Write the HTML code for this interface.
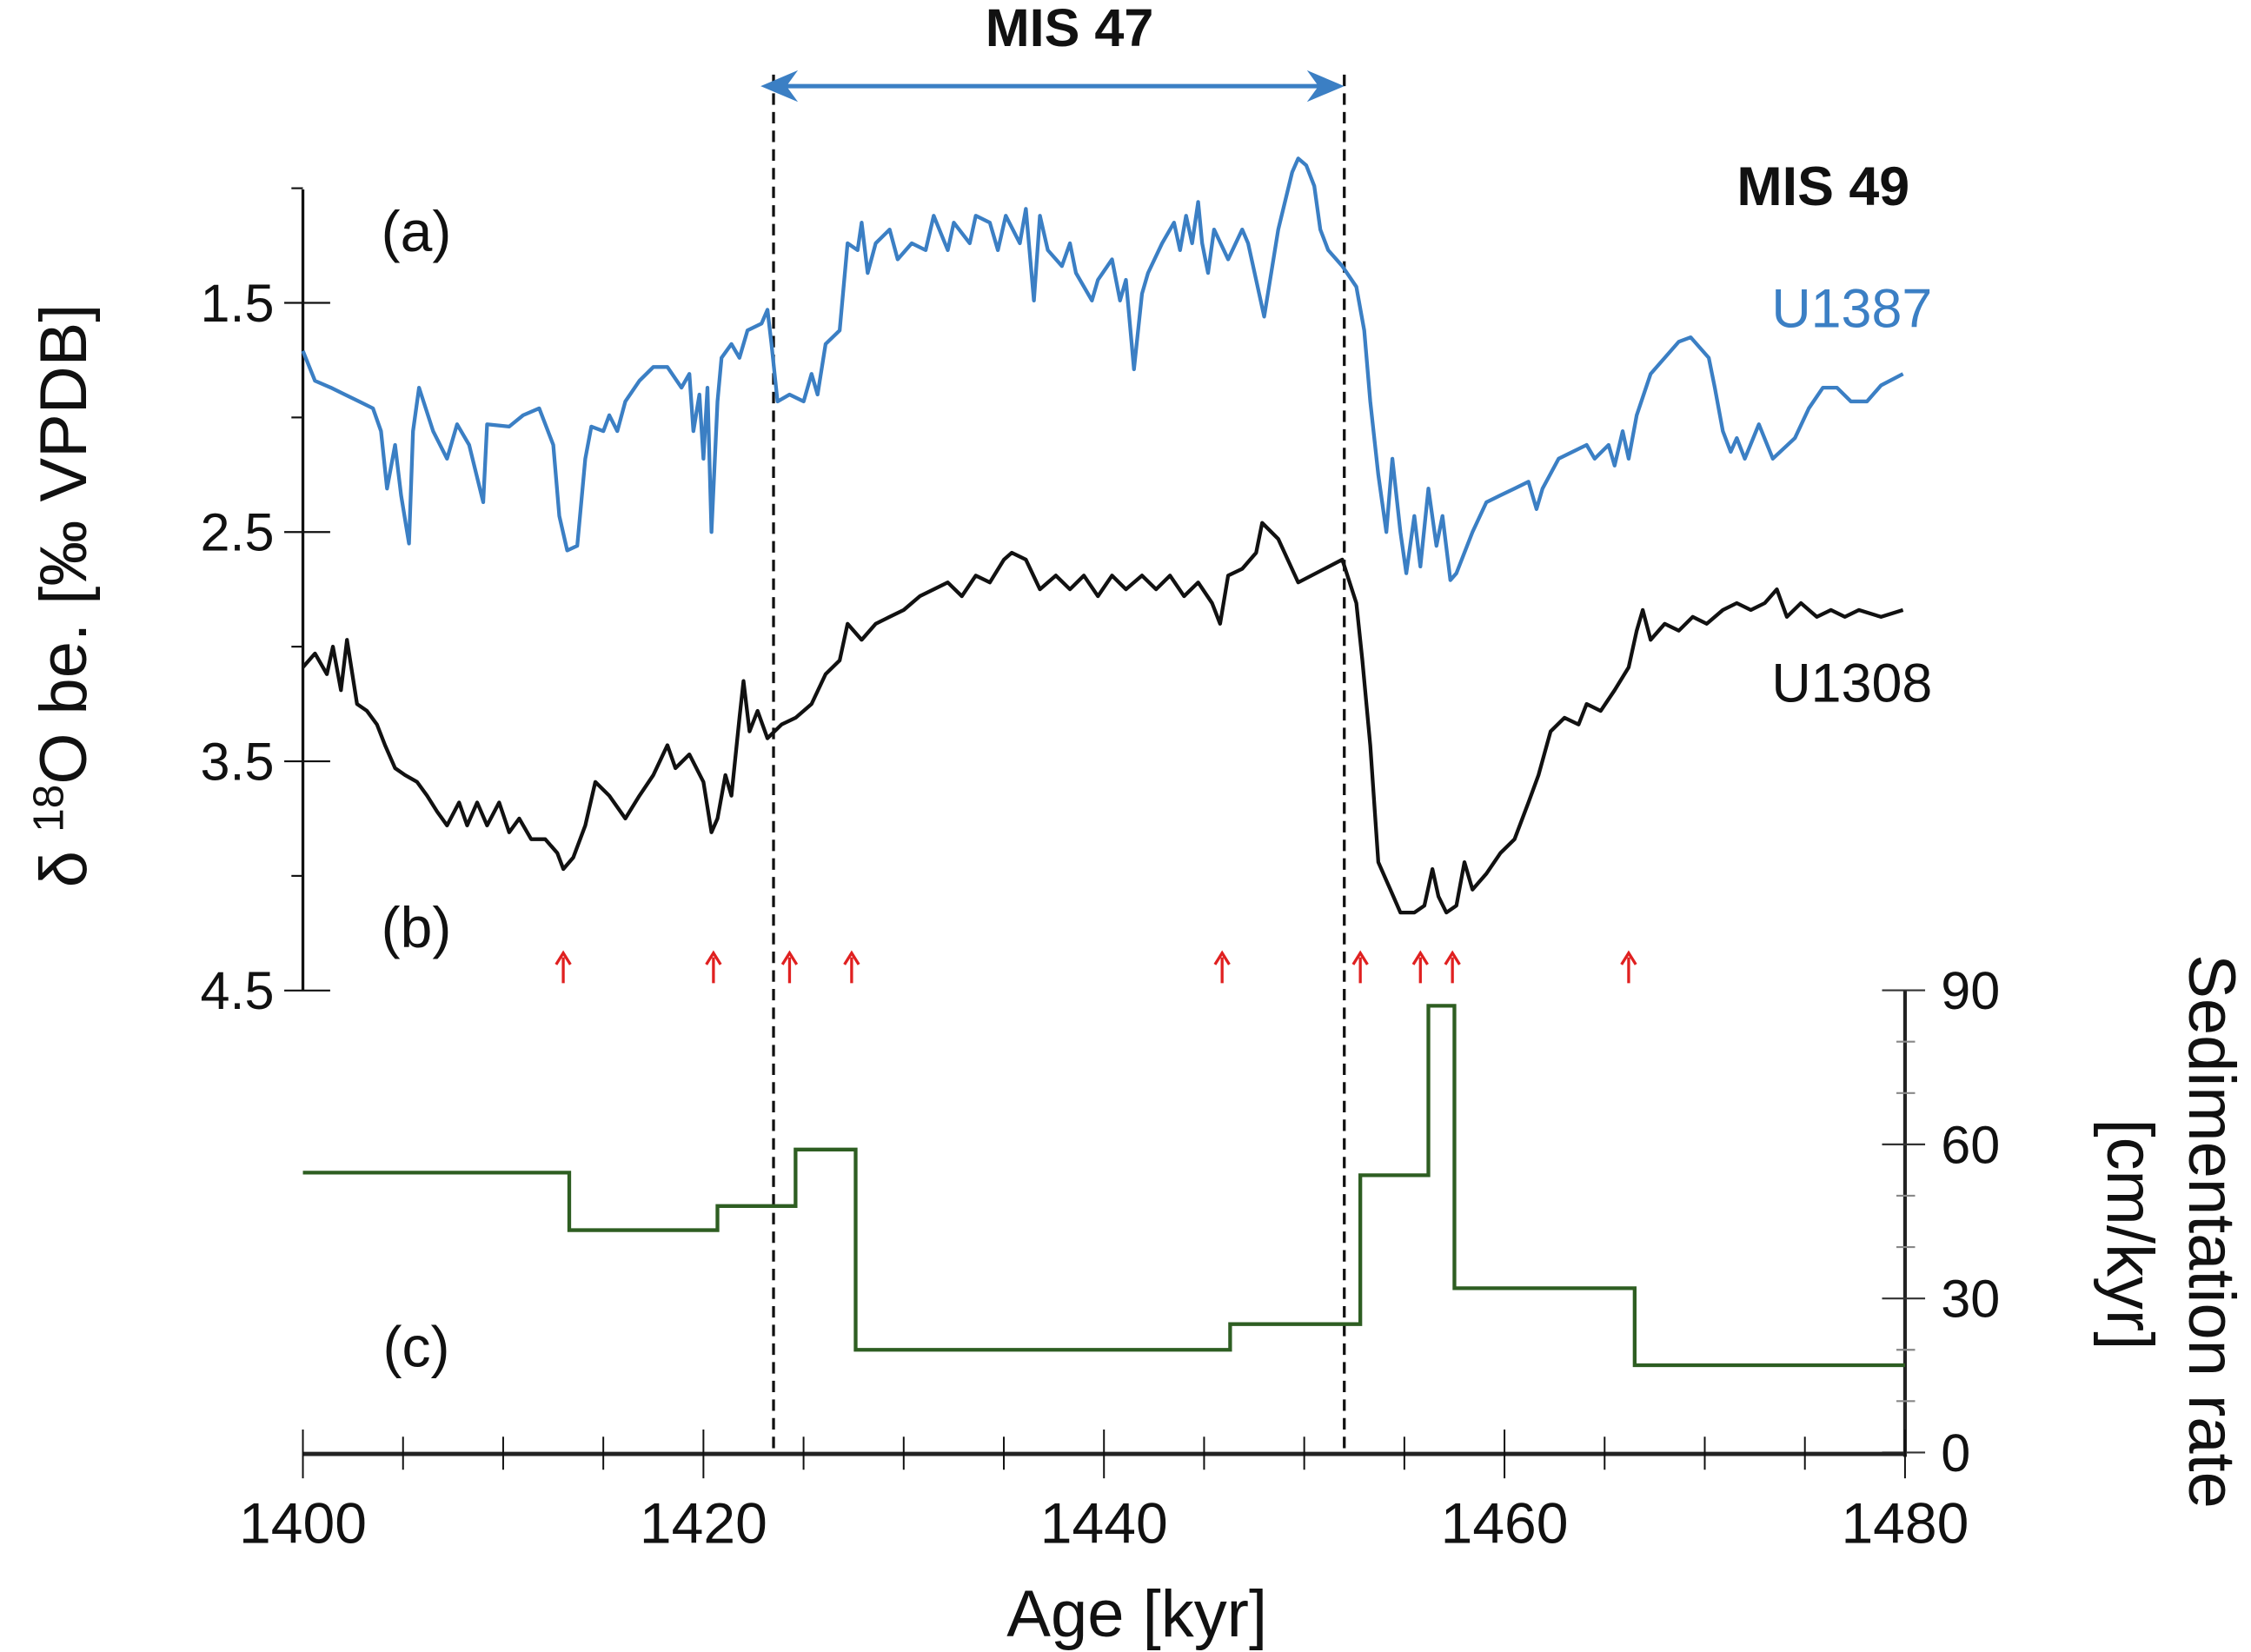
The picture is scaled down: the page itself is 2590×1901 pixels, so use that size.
<!DOCTYPE html>
<html><head><meta charset="utf-8"><style>
html,body{margin:0;padding:0;background:#fff;}
svg{display:block;font-family:"Liberation Sans",Arial,sans-serif;}
</style></head><body>
<svg id="chart" width="2590" height="1901" viewBox="0 0 1568 1151" preserveAspectRatio="none" xmlns="http://www.w3.org/2000/svg">
<g id="axes"></g>
<g id="marks"></g>
<g id="labels"></g>
</svg>
<script>
// U1387 (blue) series
const u1387Ages=[1400.0,1400.6,1401.4,1402.1,1402.8,1403.5,1403.9,1404.2,1404.6,1404.9,1405.3,1405.5,1405.8,1406.5,1407.2,1407.7,1408.3,1409.0,1409.2,1410.3,1411.0,1411.8,1412.5,1412.8,1413.2,1413.7,1414.1,1414.4,1415.0,1415.3,1415.7,1416.1,1416.8,1417.5,1418.2,1418.9,1419.3,1419.5,1419.8,1420.0,1420.2,1420.4,1420.7,1420.9,1421.4,1421.8,1422.2,1422.9,1423.2,1423.4,1423.7,1424.3,1425.0,1425.4,1425.7,1426.1,1426.8,1427.2,1427.7,1427.9,1428.2,1428.6,1429.3,1429.7,1430.4,1431.1,1431.5,1432.2,1432.5,1433.3,1433.6,1434.3,1434.7,1435.1,1435.8,1436.1,1436.5,1436.8,1437.2,1437.9,1438.3,1438.6,1439.4,1439.7,1440.4,1440.8,1441.1,1441.5,1441.9,1442.2,1442.9,1443.5,1443.8,1444.1,1444.4,1444.7,1444.9,1445.2,1445.5,1446.2,1446.9,1447.2,1448.0,1448.7,1449.4,1449.7,1450.1,1450.5,1450.8,1451.2,1451.9,1452.6,1453.0,1453.3,1453.7,1454.1,1454.4,1454.8,1455.1,1455.5,1455.8,1456.2,1456.6,1456.9,1457.3,1457.6,1458.4,1459.1,1459.8,1460.5,1461.2,1461.6,1461.9,1462.7,1463.4,1464.1,1464.5,1465.2,1465.5,1465.9,1466.2,1466.6,1467.3,1468.0,1468.7,1469.3,1470.2,1470.5,1470.9,1471.3,1471.6,1472.0,1472.7,1473.4,1474.5,1475.2,1475.9,1476.6,1477.3,1478.1,1478.8,1479.9];
const u1387Values=[1.71,1.84,1.87,1.90,1.93,1.96,2.06,2.31,2.12,2.34,2.55,2.06,1.87,2.06,2.18,2.03,2.12,2.37,2.03,2.04,1.99,1.96,2.12,2.43,2.58,2.56,2.18,2.04,2.06,1.99,2.06,1.93,1.84,1.78,1.78,1.87,1.81,2.06,1.90,2.18,1.87,2.50,1.93,1.74,1.68,1.74,1.62,1.59,1.53,1.68,1.93,1.90,1.93,1.81,1.90,1.68,1.62,1.24,1.27,1.15,1.37,1.24,1.18,1.31,1.24,1.27,1.12,1.27,1.15,1.24,1.12,1.15,1.27,1.12,1.24,1.09,1.49,1.12,1.27,1.34,1.24,1.37,1.49,1.40,1.31,1.49,1.40,1.79,1.46,1.37,1.24,1.15,1.27,1.12,1.24,1.06,1.24,1.37,1.18,1.31,1.18,1.24,1.56,1.18,0.93,0.87,0.90,0.99,1.18,1.27,1.34,1.43,1.62,1.93,2.25,2.50,2.18,2.50,2.68,2.43,2.65,2.31,2.56,2.43,2.71,2.68,2.50,2.37,2.34,2.31,2.28,2.40,2.31,2.18,2.15,2.12,2.18,2.12,2.21,2.06,2.18,1.99,1.81,1.74,1.67,1.65,1.74,1.87,2.06,2.15,2.09,2.18,2.03,2.18,2.09,1.96,1.87,1.87,1.93,1.93,1.86,1.81];
// U1308 (black) series
const u1308Ages=[1400.0,1400.6,1401.2,1401.5,1401.9,1402.2,1402.7,1403.2,1403.7,1404.1,1404.6,1405.1,1405.7,1406.2,1406.7,1407.2,1407.8,1408.2,1408.7,1409.2,1409.8,1410.3,1410.8,1411.4,1412.1,1412.7,1413.0,1413.5,1414.1,1414.6,1415.3,1416.1,1416.8,1417.5,1418.2,1418.6,1419.3,1420.0,1420.4,1420.7,1421.1,1421.4,1421.8,1422.0,1422.3,1422.7,1423.2,1423.9,1424.6,1425.4,1426.1,1426.8,1427.2,1427.9,1428.6,1429.3,1430.0,1430.8,1431.5,1432.2,1432.9,1433.6,1434.3,1435.0,1435.4,1436.1,1436.8,1437.6,1438.3,1439.0,1439.7,1440.4,1441.1,1441.9,1442.6,1443.3,1444.0,1444.7,1445.4,1445.8,1446.2,1446.9,1447.6,1447.9,1448.7,1449.7,1451.9,1452.6,1452.9,1453.3,1453.7,1454.3,1454.8,1455.5,1456.0,1456.4,1456.7,1457.1,1457.6,1458.0,1458.4,1459.1,1459.8,1460.5,1461.2,1461.7,1462.3,1463.0,1463.7,1464.1,1464.8,1465.5,1466.2,1466.6,1466.9,1467.3,1468.0,1468.7,1469.4,1470.1,1470.9,1471.6,1472.3,1473.0,1473.6,1474.1,1474.8,1475.6,1476.3,1477.0,1477.7,1478.8,1479.9];
const u1308Values=[3.09,3.03,3.12,3.00,3.19,2.97,3.25,3.28,3.34,3.43,3.53,3.56,3.59,3.65,3.72,3.78,3.68,3.78,3.68,3.78,3.68,3.81,3.75,3.84,3.84,3.90,3.97,3.92,3.78,3.59,3.65,3.75,3.65,3.56,3.43,3.53,3.47,3.59,3.81,3.75,3.56,3.65,3.31,3.15,3.37,3.28,3.40,3.34,3.31,3.25,3.12,3.06,2.90,2.97,2.90,2.87,2.84,2.78,2.75,2.72,2.78,2.69,2.72,2.62,2.59,2.62,2.75,2.69,2.75,2.69,2.78,2.69,2.75,2.69,2.75,2.69,2.78,2.72,2.81,2.90,2.69,2.66,2.59,2.46,2.53,2.72,2.62,2.81,3.06,3.43,3.94,4.06,4.16,4.16,4.13,3.97,4.09,4.16,4.13,3.94,4.06,3.99,3.90,3.84,3.68,3.56,3.37,3.31,3.34,3.25,3.28,3.19,3.09,2.93,2.84,2.97,2.90,2.93,2.87,2.90,2.84,2.81,2.84,2.81,2.75,2.87,2.81,2.87,2.84,2.87,2.84,2.87,2.84];
// Sedimentation rate step series
const sedBreaks=[1400,1413.3,1420.7,1424.6,1427.6,1446.3,1452.8,1456.2,1457.5,1466.5,1480];
const sedRates=[54.5,43.3,48,59,20,25,54,87,32,17];
// Red arrow ages
const arrowAges=[1413.0,1420.5,1424.3,1427.4,1445.9,1452.8,1455.8,1457.4,1466.2];
// Dashed MIS 47 boundaries
const misBounds=[1423.5,1452.0];
// Tick labels
const xTicks=[1400,1420,1440,1460,1480];
const yTicks=[1.5,2.5,3.5,4.5];
const sedTicks=[0,30,60,90];

const NS="http://www.w3.org/2000/svg";
const X=a=>211+(a-1400)*(1116/80);
const Y=v=>211+(v-1.5)*159.7;
const S=r=>1012-r*(322/90);
function mk(tag,attrs,parent,text){const e=document.createElementNS(NS,tag);for(const k in attrs)e.setAttribute(k,attrs[k]);if(text!==undefined)e.textContent=text;parent.appendChild(e);return e;}
const axes=document.getElementById('axes'),marks=document.getElementById('marks'),labels=document.getElementById('labels');

// left axis
let e=mk('line',{x1:211,y1:132,x2:211,y2:690,stroke:'#111','stroke-width':2},axes);


for(let v=1.0;v<=4.51;v+=0.5){const major=Math.abs((v-1.5)%1)<0.01;
 e=mk('line',{x1:major?198:203,y1:Y(v),x2:major?230:211,y2:Y(v),stroke:'#111','stroke-width':1.3},axes);
 
 }
yTicks.forEach(v=>{e=mk('text',{x:191,y:Y(v)+13,'text-anchor':'end','font-size':37,fill:'#111'},labels,v.toFixed(1));
 
 });
// right axis
e=mk('line',{x1:1327,y1:690,x2:1327,y2:1015,stroke:'#222','stroke-width':2.5},axes);


for(let r=0;r<=90;r+=10){const major=r%30===0;
 e=mk('line',{x1:major?1311:1321,y1:S(r),x2:major?1341:1334,y2:S(r),stroke:major?'#333':'#888','stroke-width':1.3},axes);
 
 }
sedTicks.forEach(r=>{e=mk('text',{x:1352,y:S(r)+13,'font-size':37,fill:'#111'},labels,String(r));
 
 });
// bottom axis
e=mk('line',{x1:211,y1:1013,x2:1327,y2:1013,stroke:'#222','stroke-width':3},axes);


for(let a=1400;a<=1480;a+=5){const major=a%20===0;
 e=mk('line',{x1:X(a),y1:major?996:1001,x2:X(a),y2:major?1030:1024,stroke:'#111','stroke-width':1.2},axes);
 
 }
xTicks.forEach(a=>{e=mk('text',{x:X(a),y:1075,'text-anchor':'middle','font-size':40,fill:'#111'},labels,String(a));
 
 });

// dashed lines
misBounds.forEach(a=>{e=mk('line',{x1:X(a),y1:52,x2:X(a),y2:1012,stroke:'#111','stroke-width':2,'stroke-dasharray':'8,5'},marks);
 
 });
// MIS 47 arrow
const ay=60,ax1=X(misBounds[0])-9,ax2=X(misBounds[1]);
e=mk('line',{x1:ax1+14,y1:ay,x2:ax2-14,y2:ay,stroke:'#3b7fc4','stroke-width':3},marks);


mk('polygon',{points:`${ax1},${ay} ${ax1+26},${ay-11} ${ax1+18},${ay} ${ax1+26},${ay+11}`,fill:'#3b7fc4'},marks);
mk('polygon',{points:`${ax2},${ay} ${ax2-26},${ay-11} ${ax2-18},${ay} ${ax2-26},${ay+11}`,fill:'#3b7fc4'},marks);

// series lines
function path(ages,vals){return ages.map((a,i)=>(i?'L':'M')+X(a).toFixed(1)+','+Y(vals[i]).toFixed(1)).join('');}
e=mk('path',{d:path(u1387Ages,u1387Values),fill:'none',stroke:'#3b7fc4','stroke-width':2.6,'stroke-linejoin':'round'},marks);


e=mk('path',{d:path(u1308Ages,u1308Values),fill:'none',stroke:'#111','stroke-width':2.6,'stroke-linejoin':'round'},marks);


// sed step
let d='';sedRates.forEach((r,i)=>{d+=(i?'L':'M')+X(sedBreaks[i])+','+S(r)+'L'+X(sedBreaks[i+1])+','+S(r);});
e=mk('path',{d:d,fill:'none',stroke:'#2e5e22','stroke-width':2.6},marks);


// arrows
arrowAges.forEach(a=>{const x=X(a);
 const g=mk('g',{},marks);
 
 
 mk('line',{x1:x,y1:685,x2:x,y2:667,stroke:'#e02020','stroke-width':2},g);
 mk('polyline',{points:`${x-5},${672} ${x},${664} ${x+5},${672}`,fill:'none',stroke:'#e02020','stroke-width':2},g);});

// text labels
function T(x,y,txt,name,extra){const t=mk('text',Object.assign({x:x,y:y,'font-size':40,fill:'#111'},extra||{}),labels,txt);
 
 return t;}
T(745,32,'MIS 47','mis47-label',{'text-anchor':'middle','font-weight':'bold','font-size':37});
T(1270,143,'MIS 49','mis49-label',{'text-anchor':'middle','font-weight':'bold','font-size':38});
T(1290,228,'U1387','u1387-label',{'text-anchor':'middle',fill:'#3b7fc4','font-size':38});
T(1290,489,'U1308','u1308-label',{'text-anchor':'middle','font-size':38});
T(290,175,'(a)','panel-a-label',{'text-anchor':'middle'});
T(290,660,'(b)','panel-b-label',{'text-anchor':'middle'});
T(290,952,'(c)','panel-c-label',{'text-anchor':'middle'});
T(792,1140,'Age [kyr]','x-axis-title',{'text-anchor':'middle','font-size':46});
const yt=mk('text',{x:0,y:0,'font-size':46,fill:'#111','text-anchor':'middle',transform:'translate(60,415) rotate(-90)'},labels);


yt.innerHTML='δ <tspan dy="-16" font-size="30">18</tspan><tspan dy="16">O be. [‰ VPDB]</tspan>';
T(0,0,'Sedimentation rate','sed-axis-title',{'text-anchor':'middle','font-size':46,transform:'translate(1525,858) rotate(90)'});
T(0,0,'[cm/kyr]','sed-axis-unit',{'text-anchor':'middle','font-size':46,transform:'translate(1468,860) rotate(90)'});
</script>
</body></html>
